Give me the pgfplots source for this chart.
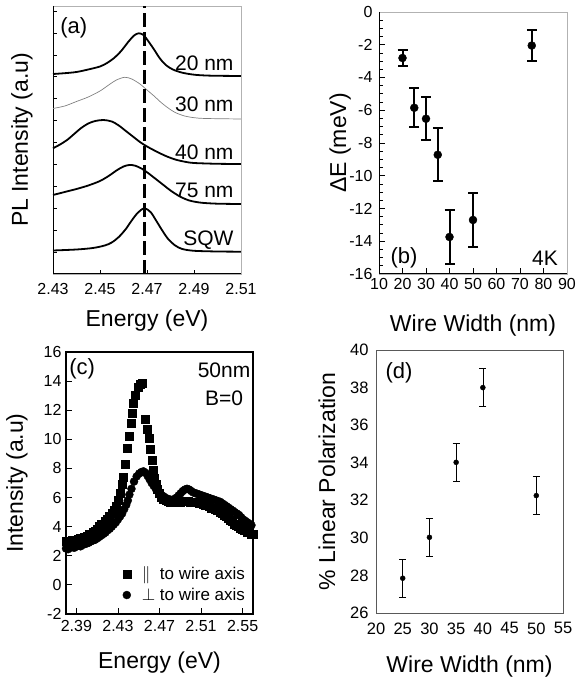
\documentclass[border=0pt]{standalone}
\usepackage{fontspec}
\setmainfont{Liberation Sans}
\usepackage{pgfplots}
\pgfplotsset{compat=1.18}
\newcommand{\fs}[1]{\fontsize{#1}{#1}\selectfont}

\pgfplotsset{
  panel/.style={
    scale only axis,
    /pgf/number format/assume math mode=true,
    tick label style={font=\fs{16}},
    label style={font=\fs{23}},
    tick align=inside, tick pos=left,
    tick style={black, line width=0.8pt},
  },
  halfbox/.style={axis line style={gray!60, line width=0.5pt}, clip=false},
}

\begin{document}
\begin{tikzpicture}
\useasboundingbox (0,0) rectangle (578pt,679pt);

% (a) PL spectra
\begin{axis}[panel, halfbox,
  at={(53pt,405pt)}, anchor=south west, width=188pt, height=268pt,
  xmin=2.43, xmax=2.51, ymin=0, ymax=268,
  xtick={2.43,2.45,2.47,2.49,2.51},
  xticklabels={2.43,2.45,2.47,2.49,2.51},
  ytick={0,21.9,...,265}, yticklabels={},
  major tick length=4pt,
  xticklabel style={yshift=-6pt},
  xlabel={Energy (eV)}, ylabel={PL Intensity (a.u)},
  xlabel style={at={(axis description cs:0.5,-0.175)}, anchor=center},
  ylabel style={at={(axis description cs:-0.165,0.5)}, anchor=center},
]
\draw[black, line width=1pt] (rel axis cs:0,1) -- (rel axis cs:0,0) -- (rel axis cs:1,0);
\addplot[black, line width=1.8pt, smooth] coordinates {
(2.430,200) (2.435,200.8) (2.440,202) (2.445,204.5) (2.450,207.5) (2.453,211)
(2.456,216) (2.459,223) (2.462,232) (2.4645,238.5) (2.4665,240.7) (2.4685,239)
(2.4705,233) (2.473,224.5) (2.4755,215.5) (2.478,209) (2.481,204.5) (2.485,201.3)
(2.490,199.3) (2.495,198.5) (2.500,198.2) (2.510,198)};
\addplot[gray, line width=0.7pt, smooth] coordinates {
(2.430,165.5) (2.435,168) (2.440,172.5) (2.445,177) (2.450,183) (2.454,189.5)
(2.457,194) (2.4605,196.7) (2.4635,195) (2.467,190) (2.470,184) (2.473,178)
(2.476,171.5) (2.479,166) (2.482,161.5) (2.486,158) (2.490,156.3) (2.495,155.5)
(2.510,155)};
\addplot[black, line width=1.8pt, smooth] coordinates {
(2.430,125.7) (2.433,129.5) (2.436,134) (2.439,140) (2.442,146) (2.445,150.5)
(2.448,153) (2.4515,154) (2.455,152.5) (2.458,148.5) (2.461,143) (2.464,137.5)
(2.467,132) (2.470,127.5) (2.474,122.5) (2.478,118) (2.482,114.5) (2.486,112.3)
(2.490,111) (2.500,110.2) (2.510,110)};
\addplot[black, line width=1.8pt, smooth] coordinates {
(2.430,79) (2.435,82) (2.440,85) (2.445,88.5) (2.450,93) (2.454,98.5)
(2.457,103.5) (2.460,107.5) (2.4625,109) (2.465,108.3) (2.468,105) (2.471,100)
(2.474,94.5) (2.477,89) (2.480,83.5) (2.484,77.5) (2.488,73.5) (2.493,71.3)
(2.500,70.3) (2.510,70)};
\addplot[black, line width=1.8pt, smooth] coordinates {
(2.430,23.5) (2.440,24.5) (2.447,26) (2.452,28.5) (2.455,31.5) (2.458,37)
(2.461,45) (2.4635,53.5) (2.466,61) (2.4688,65.7) (2.4715,62) (2.474,53)
(2.4765,43.5) (2.479,35) (2.482,28.5) (2.485,25) (2.490,23.2) (2.500,22.5)
(2.510,22.3)};
\addplot[black, line width=2.4pt, dash pattern=on 14pt off 5pt] coordinates {(2.469,0) (2.469,268)};
\node[font=\fs{22}, anchor=west] at (axis description cs:0.02,0.918) {(a)};
\node[font=\fs{21}, anchor=east] at (axis description cs:0.979,0.787) {20 nm};
\node[font=\fs{21}, anchor=east] at (axis description cs:0.979,0.634) {30 nm};
\node[font=\fs{21}, anchor=east] at (axis description cs:0.979,0.455) {40 nm};
\node[font=\fs{21}, anchor=east] at (axis description cs:0.979,0.313) {75 nm};
\node[font=\fs{21}, anchor=east] at (axis description cs:0.979,0.127) {SQW};
\end{axis}

% (b) energy shift
\begin{axis}[panel, halfbox,
  at={(379pt,405pt)}, anchor=south west, width=188pt, height=262pt,
  xmin=10, xmax=90, ymin=-16, ymax=0,
  xtick={10,20,...,90}, ytick={-16,-14,...,0},
  minor y tick num=3,
  major tick length=6pt, minor tick length=3.5pt,
  xticklabel style={yshift=-1pt}, yticklabel style={xshift=-3pt},
  xlabel={Wire Width (nm)}, ylabel={ΔE (meV)},
  xlabel style={at={(axis description cs:0.5,-0.195)}, anchor=center},
  ylabel style={at={(axis description cs:-0.207,0.5)}, anchor=center},
]
\draw[black, line width=1pt] (rel axis cs:0,1) -- (rel axis cs:0,0) -- (rel axis cs:1,0);
\addplot[black, only marks, mark=*, mark size=4pt,
  error bars/.cd, y dir=both, y explicit,
  error bar style={line width=2pt},
  error mark options={rotate=90, mark size=5pt, line width=2pt}]
coordinates {
(20,-2.81) +- (0,0.47)
(25,-5.85) +- (0,1.2)
(30,-6.52) +- (0,1.32)
(35,-8.72) +- (0,1.63)
(40,-13.74) +- (0,1.65)
(50,-12.7) +- (0,1.67)
(75,-2.05) +- (0,0.97)};
\node[font=\fs{22}] at (axis description cs:0.133,0.061) {(b)};
\node[font=\fs{21}] at (axis description cs:0.883,0.061) {4K};
\end{axis}

% (c) polarized spectra
\begin{axis}[panel,
  at={(66pt,65pt)}, anchor=south west, width=187pt, height=262pt,
  axis line style={black, line width=1.2pt},
  xmin=2.38, xmax=2.56, ymin=-2, ymax=16,
  xtick={2.39,2.43,2.47,2.51,2.55},
  xticklabels={2.39,2.43,2.47,2.51,2.55},
  ytick={-2,0,...,16},
  major tick length=5.5pt,
  xticklabel style={yshift=-3pt}, yticklabel style={xshift=-1pt},
  xlabel={Energy (eV)}, ylabel={Intensity (a.u)},
  xlabel style={at={(axis description cs:0.5,-0.187)}, anchor=center},
  ylabel style={at={(axis description cs:-0.262,0.5)}, anchor=center},
  legend style={draw=none, fill=none, font=\fs{17},
    at={(axis description cs:0.985,0.03)}, anchor=south east,
    row sep=3pt},
  legend cell align=left,
]
\addplot[black, only marks, mark=square*, mark size=4pt] coordinates {
(2.380,3.0) (2.382,2.95) (2.384,3.0) (2.386,3.05) (2.388,3.0) (2.390,3.1)
(2.392,3.15) (2.394,3.2) (2.396,3.2) (2.398,3.3) (2.400,3.35) (2.402,3.45)
(2.404,3.5) (2.406,3.6) (2.408,3.7) (2.410,3.85) (2.412,4.0) (2.414,4.15)
(2.416,4.2) (2.418,4.35) (2.420,4.5) (2.422,4.7) (2.424,4.9) (2.426,5.1)
(2.428,5.4) (2.430,5.8) (2.432,6.3) (2.434,6.9) (2.4355,7.4) (2.437,8.3)
(2.439,9.4) (2.4409,10.2) (2.4425,11.1) (2.4438,11.8) (2.4448,12.5) (2.447,13.0)
(2.4496,13.6) (2.4515,13.8) (2.4535,13.85) (2.4560,11.4) (2.4580,10.7) (2.4597,10.05)
(2.4612,9.3) (2.4625,8.6) (2.4638,7.9) (2.4650,7.3) (2.4665,6.9) (2.468,6.6)
(2.470,6.3) (2.472,6.0) (2.474,5.9) (2.476,5.8) (2.478,5.75) (2.480,5.7)
(2.482,5.65) (2.484,5.65) (2.486,5.65) (2.488,5.7) (2.490,5.7) (2.492,5.75)
(2.494,5.75) (2.496,5.75) (2.498,5.75) (2.500,5.7) (2.502,5.7) (2.504,5.65)
(2.506,5.65) (2.508,5.6) (2.510,5.6) (2.512,5.55) (2.514,5.5) (2.516,5.45)
(2.518,5.4) (2.520,5.3) (2.522,5.25) (2.524,5.2) (2.526,5.1) (2.528,5.0)
(2.530,4.9) (2.532,4.8) (2.534,4.7) (2.536,4.6) (2.538,4.45) (2.540,4.35)
(2.542,4.2) (2.544,4.1) (2.546,4.0) (2.548,3.9) (2.550,3.8) (2.552,3.75)
(2.554,3.65) (2.556,3.6) (2.558,3.5) (2.560,3.45)};
\addlegendentry{\hspace{9pt}$\parallel$\ \ to wire axis}
\addplot[black, only marks, mark=*, mark size=4pt] coordinates {
(2.380,2.5) (2.382,2.45) (2.384,2.55) (2.386,2.6) (2.388,2.55) (2.390,2.65)
(2.392,2.7) (2.394,2.65) (2.396,2.75) (2.398,2.8) (2.400,2.85) (2.402,2.9)
(2.404,3.0) (2.406,3.05) (2.408,3.1) (2.410,3.2) (2.412,3.3) (2.414,3.4)
(2.416,3.5) (2.418,3.6) (2.420,3.75) (2.422,3.85) (2.424,4.0) (2.426,4.15)
(2.428,4.3) (2.430,4.5) (2.432,4.7) (2.434,4.9) (2.436,5.2) (2.438,5.5)
(2.4395,5.8) (2.441,6.2) (2.443,6.6) (2.4455,7.1) (2.448,7.45) (2.4505,7.65)
(2.4525,7.75) (2.4545,7.8) (2.4565,7.7) (2.4585,7.5) (2.4605,7.25) (2.4625,7.0)
(2.4645,6.8) (2.4665,6.6) (2.4685,6.45) (2.4705,6.3) (2.4725,6.15) (2.4745,6.05)
(2.4765,5.95) (2.4785,5.9) (2.4805,5.85) (2.4825,5.85) (2.4845,5.9) (2.4865,6.0)
(2.4885,6.15) (2.4905,6.3) (2.4925,6.45) (2.4945,6.55) (2.4965,6.6) (2.4985,6.55)
(2.5005,6.45) (2.5025,6.35) (2.5045,6.3) (2.5065,6.25) (2.5085,6.2) (2.5105,6.15)
(2.5125,6.1) (2.5145,6.05) (2.5165,6.0) (2.5185,5.95) (2.5205,5.9) (2.5225,5.85)
(2.5245,5.8) (2.5265,5.75) (2.5285,5.7) (2.5305,5.6) (2.5325,5.5) (2.5345,5.4)
(2.5365,5.3) (2.5385,5.2) (2.5405,5.1) (2.5425,5.0) (2.5445,4.9) (2.5465,4.8)
(2.5485,4.65) (2.5505,4.5) (2.5525,4.4) (2.5545,4.3) (2.5565,4.2) (2.5585,4.1)};
\addlegendentry{\hspace{9pt}$\perp$ to wire axis}
\node[font=\fs{22}] at (axis description cs:0.086,0.935) {(c)};
\node[font=\fs{21}] at (axis description cs:0.845,0.931) {50nm};
\node[font=\fs{21}] at (axis description cs:0.845,0.824) {B=0};
\end{axis}

% (d) linear polarization
\begin{axis}[panel,
  at={(376pt,66pt)}, anchor=south west, width=187pt, height=263pt,
  axis line style={gray!70!black, line width=0.6pt},
  tick label style={font=\fs{16.5}},
  xmin=20, xmax=55, ymin=26, ymax=40,
  xtick={20,25,...,55}, ytick={26,28,...,40},
  major tick length=0pt,
  xticklabel style={yshift=-6pt}, yticklabel style={xshift=-4pt},
  xlabel={Wire Width (nm)}, ylabel={\% Linear Polarization},
  xlabel style={at={(axis description cs:0.5,-0.205)}, anchor=center},
  ylabel style={at={(axis description cs:-0.262,0.5)}, anchor=center},
]
\addplot[black, only marks, mark=*, mark size=2.5pt,
  error bars/.cd, y dir=both, y explicit,
  error bar style={line width=0.7pt},
  error mark options={rotate=90, mark size=3.5pt, line width=0.7pt}]
coordinates {
(25,27.85) +- (0,1.0)
(30,30.03) +- (0,1.0)
(35,34.02) +- (0,1.0)
(40,38.0) +- (0,1.0)
(50,32.25) +- (0,1.0)};
\node[font=\fs{22}] at (axis description cs:0.123,0.913) {(d)};
\end{axis}
\end{tikzpicture}
\end{document}
